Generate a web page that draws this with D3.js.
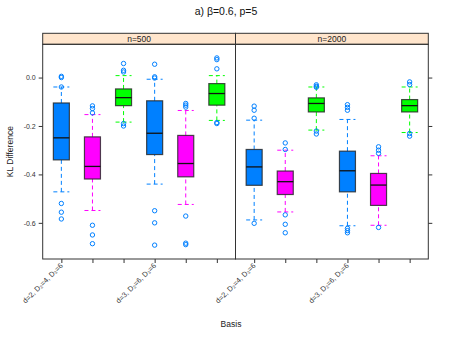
<!DOCTYPE html>
<html>
<head>
<meta charset="utf-8">
<script src="https://cdn.jsdelivr.net/npm/d3@7"></script>
<style>
  body { margin: 0; background: #fff; }
  text { font-family: "Liberation Sans", Arial, sans-serif; }
</style>
</head>
<body>
<div class="chart"></div>
<script>
// Données
const panels = ["n=500", "n=2000"];
const basisLabels = ["d=2, D₂=4, D₃=6", "", "", "d=3, D₂=6, D₃=6", "", ""];
const boxColors = ["#0080ff", "#ff00ff", "#00ff00", "#0080ff", "#ff00ff", "#00ff00"];
const yTicks = [0.0, -0.2, -0.4, -0.6];

// [moustache basse, Q1, médiane, Q3, moustache haute]
const stats500 = [
  [-0.472, -0.340, -0.249, -0.105, -0.039],
  [-0.549, -0.419, -0.367, -0.245, -0.153],
  [-0.184, -0.116, -0.083, -0.047, 0.008],
  [-0.440, -0.318, -0.230, -0.096, -0.007],
  [-0.524, -0.410, -0.355, -0.239, -0.136],
  [-0.177, -0.114, -0.066, -0.025, 0.008]
];
const stats2000 = [
  [-0.588, -0.445, -0.369, -0.297, -0.176],
  [-0.555, -0.483, -0.430, -0.386, -0.300],
  [-0.217, -0.142, -0.107, -0.084, -0.039],
  [-0.612, -0.472, -0.385, -0.304, -0.173],
  [-0.610, -0.528, -0.444, -0.396, -0.323],
  [-0.227, -0.142, -0.116, -0.091, -0.039]
];
const outliers500 = [
  [0.005, 0.0, -0.039, -0.520, -0.556, -0.584],
  [-0.117, -0.128, -0.146, -0.610, -0.650, -0.686],
  [0.058, 0.030, 0.023, -0.190, -0.200],
  [0.055, 0.003, -0.002, -0.550, -0.600, -0.692],
  [-0.107, -0.114, -0.122, -0.572, -0.684, -0.690],
  [0.081, 0.074, 0.036, -0.186, -0.190]
];
const outliers2000 = [
  [-0.118, -0.135, -0.168, -0.602],
  [-0.270, -0.297, -0.567, -0.606, -0.641],
  [-0.030, -0.036, -0.040, -0.221, -0.233],
  [-0.112, -0.123, -0.135, -0.623, -0.632, -0.641],
  [-0.286, -0.300, -0.313, -0.619],
  [-0.018, -0.029, -0.231, -0.242]
];

const width = 450, height = 337;
const panelTop = 44.3, panelBottom = 259, stripTop = 33.3;
const panelLeft = 42.7, panelRight = 428.3;
const panelW = (panelRight - panelLeft) / 2;

const svg = d3.select(".chart").append("svg")
  .attr("width", width)
  .attr("height", height);

const y = d3.scaleLinear().domain([-0.7493, 0.1373]).range([panelBottom, panelTop]);

const allStats = [stats500, stats2000];
const allOutliers = [outliers500, outliers2000];

panels.forEach((name, p) => {
  const x0 = panelLeft + p * panelW;
  const x = d3.scaleLinear().domain([0.4, 6.6]).range([x0, x0 + panelW]);
  const g = svg.append("g");
  const bw = 16;

  // strip
  g.append("rect")
    .attr("x", x0).attr("y", stripTop)
    .attr("width", panelW).attr("height", panelTop - stripTop)
    .attr("fill", "#ffe5cc").attr("stroke", "#333").attr("stroke-width", 1);
  g.append("text")
    .attr("x", x0 + panelW / 2).attr("y", stripTop + 8.5)
    .attr("text-anchor", "middle").attr("font-size", 8.5).attr("fill", "#222")
    .text(name);

  const boxes = g.selectAll(".box")
    .data(allStats[p].map((s, i) => ({ s, i, out: allOutliers[p][i] })))
    .join("g").attr("class", "box");

  // moustaches, boîtes, points extrêmes
  boxes.each(function(d) {
    const b = d3.select(this);
    const cx = x(d.i + 1);
    const col = boxColors[d.i];
    [[d.s[0], d.s[1]], [d.s[3], d.s[4]]].forEach(([a, c]) => {
      b.append("line")
        .attr("x1", cx).attr("x2", cx).attr("y1", y(a)).attr("y2", y(c))
        .attr("stroke", col).attr("stroke-dasharray", "4,3").attr("stroke-width", 1);
    });
    [d.s[0], d.s[4]].forEach(v => {
      b.append("line")
        .attr("x1", cx - bw / 2).attr("x2", cx + bw / 2).attr("y1", y(v)).attr("y2", y(v))
        .attr("stroke", col).attr("stroke-dasharray", "4,3").attr("stroke-width", 1);
    });
    b.append("rect")
      .attr("x", cx - bw / 2).attr("width", bw)
      .attr("y", y(d.s[3])).attr("height", y(d.s[1]) - y(d.s[3]))
      .attr("fill", col).attr("stroke", "#222").attr("stroke-opacity", 0.8).attr("stroke-width", 1.2);
    b.append("line")
      .attr("x1", cx - bw / 2).attr("x2", cx + bw / 2)
      .attr("y1", y(d.s[2])).attr("y2", y(d.s[2]))
      .attr("stroke", "#111").attr("stroke-width", 1.3);
    b.selectAll("circle").data(d.out).join("circle")
      .attr("cx", cx).attr("cy", v => y(v)).attr("r", 2.2)
      .attr("fill", "none").attr("stroke", "#0080ff").attr("stroke-width", 1);
  });

  // cadre du panneau
  g.append("rect")
    .attr("x", x0).attr("y", panelTop)
    .attr("width", panelW).attr("height", panelBottom - panelTop)
    .attr("fill", "none").attr("stroke", "#333").attr("stroke-width", 1);

  // axe x
  const xAxis = d3.axisBottom(x).tickValues(d3.range(1, 7)).tickSize(4).tickFormat("");
  const ax = g.append("g").attr("transform", `translate(0,${panelBottom})`).call(xAxis);
  ax.select(".domain").remove();
  ax.selectAll("line").attr("stroke", "#333");

  basisLabels.forEach((lab, i) => {
    if (!lab) return;
    g.append("text")
      .attr("transform", `translate(${x(i + 1) + 2},${panelBottom + 7}) rotate(-45)`)
      .attr("text-anchor", "end").attr("font-size", 7.3).attr("fill", "#333")
      .text(lab);
  });
});

// axe y gauche
const yAxisL = svg.append("g").attr("transform", `translate(${panelLeft},0)`)
  .call(d3.axisLeft(y).tickValues(yTicks).tickSize(4).tickPadding(3).tickFormat(d3.format(".1f")));
yAxisL.select(".domain").remove();
yAxisL.selectAll("line").attr("stroke", "#333");
yAxisL.selectAll("text").attr("font-size", 7).attr("fill", "#333")
  .attr("font-family", "Liberation Sans, Arial, sans-serif")
  .text(d => d3.format(".1f")(d).replace("−", "-"));

// axe y droit (sans étiquettes)
const yAxisR = svg.append("g").attr("transform", `translate(${panelRight},0)`)
  .call(d3.axisRight(y).tickValues(yTicks).tickSize(4).tickFormat(""));
yAxisR.select(".domain").remove();
yAxisR.selectAll("line").attr("stroke", "#333");

// titres
svg.append("text")
  .attr("x", 226).attr("y", 15)
  .attr("text-anchor", "middle").attr("font-size", 10.5).attr("fill", "#111")
  .text("a) β=0.6, p=5");

svg.append("text")
  .attr("transform", `translate(13,${(panelTop + panelBottom) / 2}) rotate(-90)`)
  .attr("text-anchor", "middle").attr("font-size", 8.5).attr("fill", "#222")
  .text("KL Difference");

svg.append("text")
  .attr("x", 231).attr("y", 327)
  .attr("text-anchor", "middle").attr("font-size", 8.5).attr("fill", "#222")
  .text("Basis");
</script>
</body>
</html>
